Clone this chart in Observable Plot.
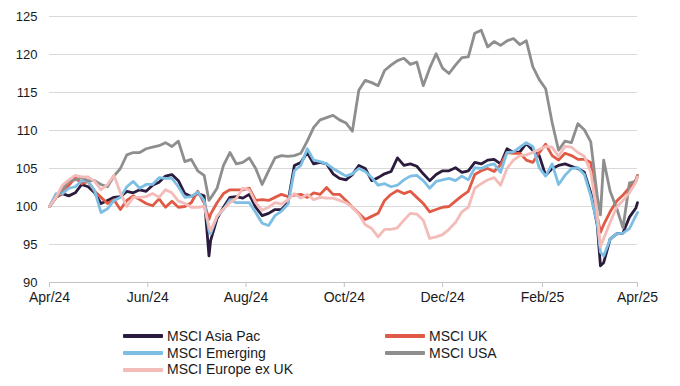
<!DOCTYPE html>
<html>
<head>
<meta charset="utf-8">
<script src="https://cdn.jsdelivr.net/npm/d3@7"></script>
<script src="https://cdn.jsdelivr.net/npm/@observablehq/plot@0.6"></script>
<style>
  html, body { margin: 0; padding: 0; background: #fff; }
  #wrap { position: relative; width: 680px; height: 386px; font-family: "Liberation Sans", Arial, sans-serif; color: #1a1a1a; }
  .leg { position: absolute; display: flex; align-items: center; font-size: 14px; line-height: 16.7px; height: 16.7px; white-space: nowrap; }
  .sw { width: 40px; height: 4px; margin-right: 4px; border-radius: 1px; }
</style>
</head>
<body>
<div id="wrap"></div>
<script>
// Series names and colours (legend order)
const seriesNames = ["MSCI Asia Pac", "MSCI UK", "MSCI Emerging", "MSCI USA", "MSCI Europe ex UK"];
const seriesColors = ["#2b1b3d", "#e05a45", "#7dbfe4", "#8e8e8e", "#f4bcb8"];

// Day offsets from 1 Apr 2024
const days = [0,4,8,12,16,20,24,28,32,36,40,44,48,52,56,60,64,68,72,76,80,84,88,92,96,99,
  100,104,108,112,116,120,124,128,132,136,140,144,148,152,156,160,164,168,172,176,180,184,188,192,196,
  200,204,208,212,216,220,224,228,232,236,240,244,248,252,256,260,264,268,272,276,280,284,288,292,296,
  300,304,308,312,316,320,324,328,332,336,340,342,344,348,352,356,360,364,365];

const asiaPac = [100,101.2,101.7,101.4,101.8,102.9,102.6,101.8,100.4,100.8,101.2,101.3,102,101.8,102.2,102,102.8,103.2,104,104.2,103.4,101.7,101.3,101.7,101.4,
  93.5,
  95.5,98.4,99.9,101.2,101.3,101.1,101.6,99.9,98.8,99.1,99.6,99.6,100.5,105.4,105.8,107.1,105.6,105.8,105.6,104.3,103.7,103.5,104.2,105.4,105,103.4,103.8,104.3,104.6,106.4,105.4,105.6,105.3,104.3,103.4,104.2,104.7,104.7,105.1,104.5,104.7,105.8,105.6,106.1,106.2,105.6,107.6,107.1,107.2,108.3,107.4,106.7,104.1,105,105.4,105.6,105.3,105,104.5,101.8,97.6,
  92.2,
  92.6,95.7,96.4,96.5,98.6,99.8,
  100.5];

const uk = [100,101.2,101.7,102.8,103.8,103,103.3,102,101.2,100.4,100.9,99.6,100.8,101.4,100.9,100.4,100.1,101.0,99.9,100.7,99.9,100,100.5,102,100.5,
  98.3,
  99,100.5,101.7,102.2,102.2,102.2,102.4,100.8,100.9,100.8,101.2,101.6,101.3,101.5,101.6,101.2,101.8,101.6,102.5,101.6,101.6,100.8,99.9,99.1,98.3,98.7,99.1,100.8,101.6,102.1,101.7,102,101.2,100.4,99.3,99.6,99.9,100,100.7,101.4,102,104.2,104.7,105,104.6,105.5,107.1,107,107,106.1,105.8,107.1,108.2,106.7,106.1,107,106.7,106.2,106.2,105.8,98.7,
  96.6,
  97.6,99.3,100.7,101.5,102.5,103.5,
  104.1];

const emerging = [100,101.7,101.7,102.4,102.6,103.4,103.3,102.1,99.2,99.7,100.8,101.2,102.6,103.3,102.4,102.9,102.9,103.8,103.7,103.7,102.6,101.2,101.3,101.9,100.8,
  96.8,
  96.4,98.7,99.6,100.9,100.5,100.5,100.5,99.2,97.8,97.5,98.8,99.4,100.3,104.7,105.4,107.6,106.1,105.9,105.6,105,104.5,104,104.3,105,104.6,103.8,102.8,103,102.6,102.8,103.5,104,104.1,103.4,102.4,103.3,103.5,103.7,103.4,104,103.5,105.1,105,105.4,105.6,104.5,107.1,107.2,107.8,108.4,107.9,105.1,104,105.6,102.9,104.1,105,105.1,104.2,101.4,97.8,
  94,
  93.5,95.7,96.4,96.5,97.1,98.8,
  99.2];

const usa = [100,101.2,102.2,103.4,103.5,103.8,103.4,103.4,102.9,102.6,104,105,106.8,107.1,107.1,107.6,107.8,108,108.4,107.9,108.6,105.9,106.2,104.7,104.1,
  100.8,
  101.1,102.4,105.4,107.1,105.6,105.8,106.4,105,102.9,104.7,106.4,106.7,106.6,106.7,107,108.6,110.4,111.4,111.7,112,111.4,111.0,109.9,115.3,116.6,116.3,115.9,117.9,118.6,119.2,119.5,118.7,119,115.9,118.2,120.1,118.2,117.5,118.6,119.6,119.7,122.8,123.2,121.0,121.7,121.2,121.8,122.1,121.3,121.8,118.4,116.7,115.5,111.05,107.4,108.6,108.4,110.9,110.1,108.5,101.4,
  98.9,
  106.1,102,99.8,97.2,103.1,103.3,
  104];

const europeExUk = [100,101.2,102.8,103.5,104.1,103.9,103.9,103.3,102.2,102.9,104.1,101.8,100,101.2,101.2,101.3,101.7,101.2,102.2,101.8,100.7,100.4,99.9,99.9,100,
  97.4,
  96.8,98.7,99.7,100.5,101.1,102.4,102.2,100.5,99.5,99.9,100.5,100.3,100.9,101.7,101.1,101.6,100.9,101.2,101.1,101.1,100.8,100.5,99.9,99,97.6,97.1,96.0,97,97,97.2,98.2,99.1,99,98.2,95.8,96,96.3,97,97.9,99.3,99.9,102.4,103.0,103.5,103.8,102.8,105,106.1,106.7,106.8,107.1,107.5,107.9,107.8,106.6,107.9,107.8,107.1,106.6,104.5,99.1,
  94.7,
  95.8,97.9,99.9,100.8,101.8,103.2,
  103.9];

// Axis ticks
const xTickDates = ["2024-04-01","2024-06-01","2024-08-01","2024-10-01","2024-12-01","2025-02-01","2025-04-01"];
const xTickLabels = ["Apr/24","Jun/24","Aug/24","Oct/24","Dec/24","Feb/25","Apr/25"];
const yTicks = [90,95,100,105,110,115,120,125];

// Build table
const start = new Date(Date.UTC(2024, 3, 1));
const seriesValues = [asiaPac, uk, emerging, usa, europeExUk];
const data = [];
seriesNames.forEach((name, si) => {
  seriesValues[si].forEach((v, i) => {
    data.push({series: name, date: d3.utcDay.offset(start, days[i]), value: v});
  });
});
const tickDates = xTickDates.map(s => new Date(s + "T00:00:00Z"));
const labelMap = new Map(tickDates.map((d, i) => [+d, xTickLabels[i]]));

const chart = Plot.plot({
  width: 680,
  height: 320,
  marginLeft: 49,
  marginRight: 43,
  marginTop: 16,
  marginBottom: 38,
  style: {fontFamily: "'Liberation Sans', Arial, sans-serif", fontSize: "14px", color: "#1a1a1a", background: "#fff"},
  x: {type: "utc", domain: [tickDates[0], tickDates[tickDates.length - 1]]},
  y: {domain: [90, 125]},
  color: {domain: seriesNames, range: seriesColors},
  marks: [
    Plot.gridY(yTicks.filter(t => t > 90), {stroke: "#d9d9d9", strokeOpacity: 1}),
    Plot.axisY({ticks: yTicks, tickSize: 0, tickPadding: 12, fontSize: 13, label: null, fill: "#1a1a1a"}),
    Plot.ruleY([90], {stroke: "#c4c4c4", strokeWidth: 1}),
    Plot.axisX({ticks: tickDates, tickFormat: d => labelMap.get(+d), tickSize: 5, tickPadding: 5, stroke: "#c4c4c4", fill: "#1a1a1a", label: null}),
    Plot.lineY(data, {x: "date", y: "value", z: "series", stroke: "series", strokeWidth: 2.8, strokeLinejoin: "round", strokeLinecap: "round"})
  ]
});

const wrap = document.getElementById("wrap");
wrap.appendChild(chart);

// Legend: two columns, row-major in series order
const colX = [123, 385];
const rowTop = 328;
const rowH = 16.7;
seriesNames.forEach((name, i) => {
  const col = i % 2, row = Math.floor(i / 2);
  const item = document.createElement("div");
  item.className = "leg";
  item.style.left = colX[col] + "px";
  item.style.top = (rowTop + row * rowH) + "px";
  const sw = document.createElement("span");
  sw.className = "sw";
  sw.style.background = seriesColors[i];
  const tx = document.createElement("span");
  tx.textContent = name;
  item.appendChild(sw);
  item.appendChild(tx);
  wrap.appendChild(item);
});
</script>
</body>
</html>
